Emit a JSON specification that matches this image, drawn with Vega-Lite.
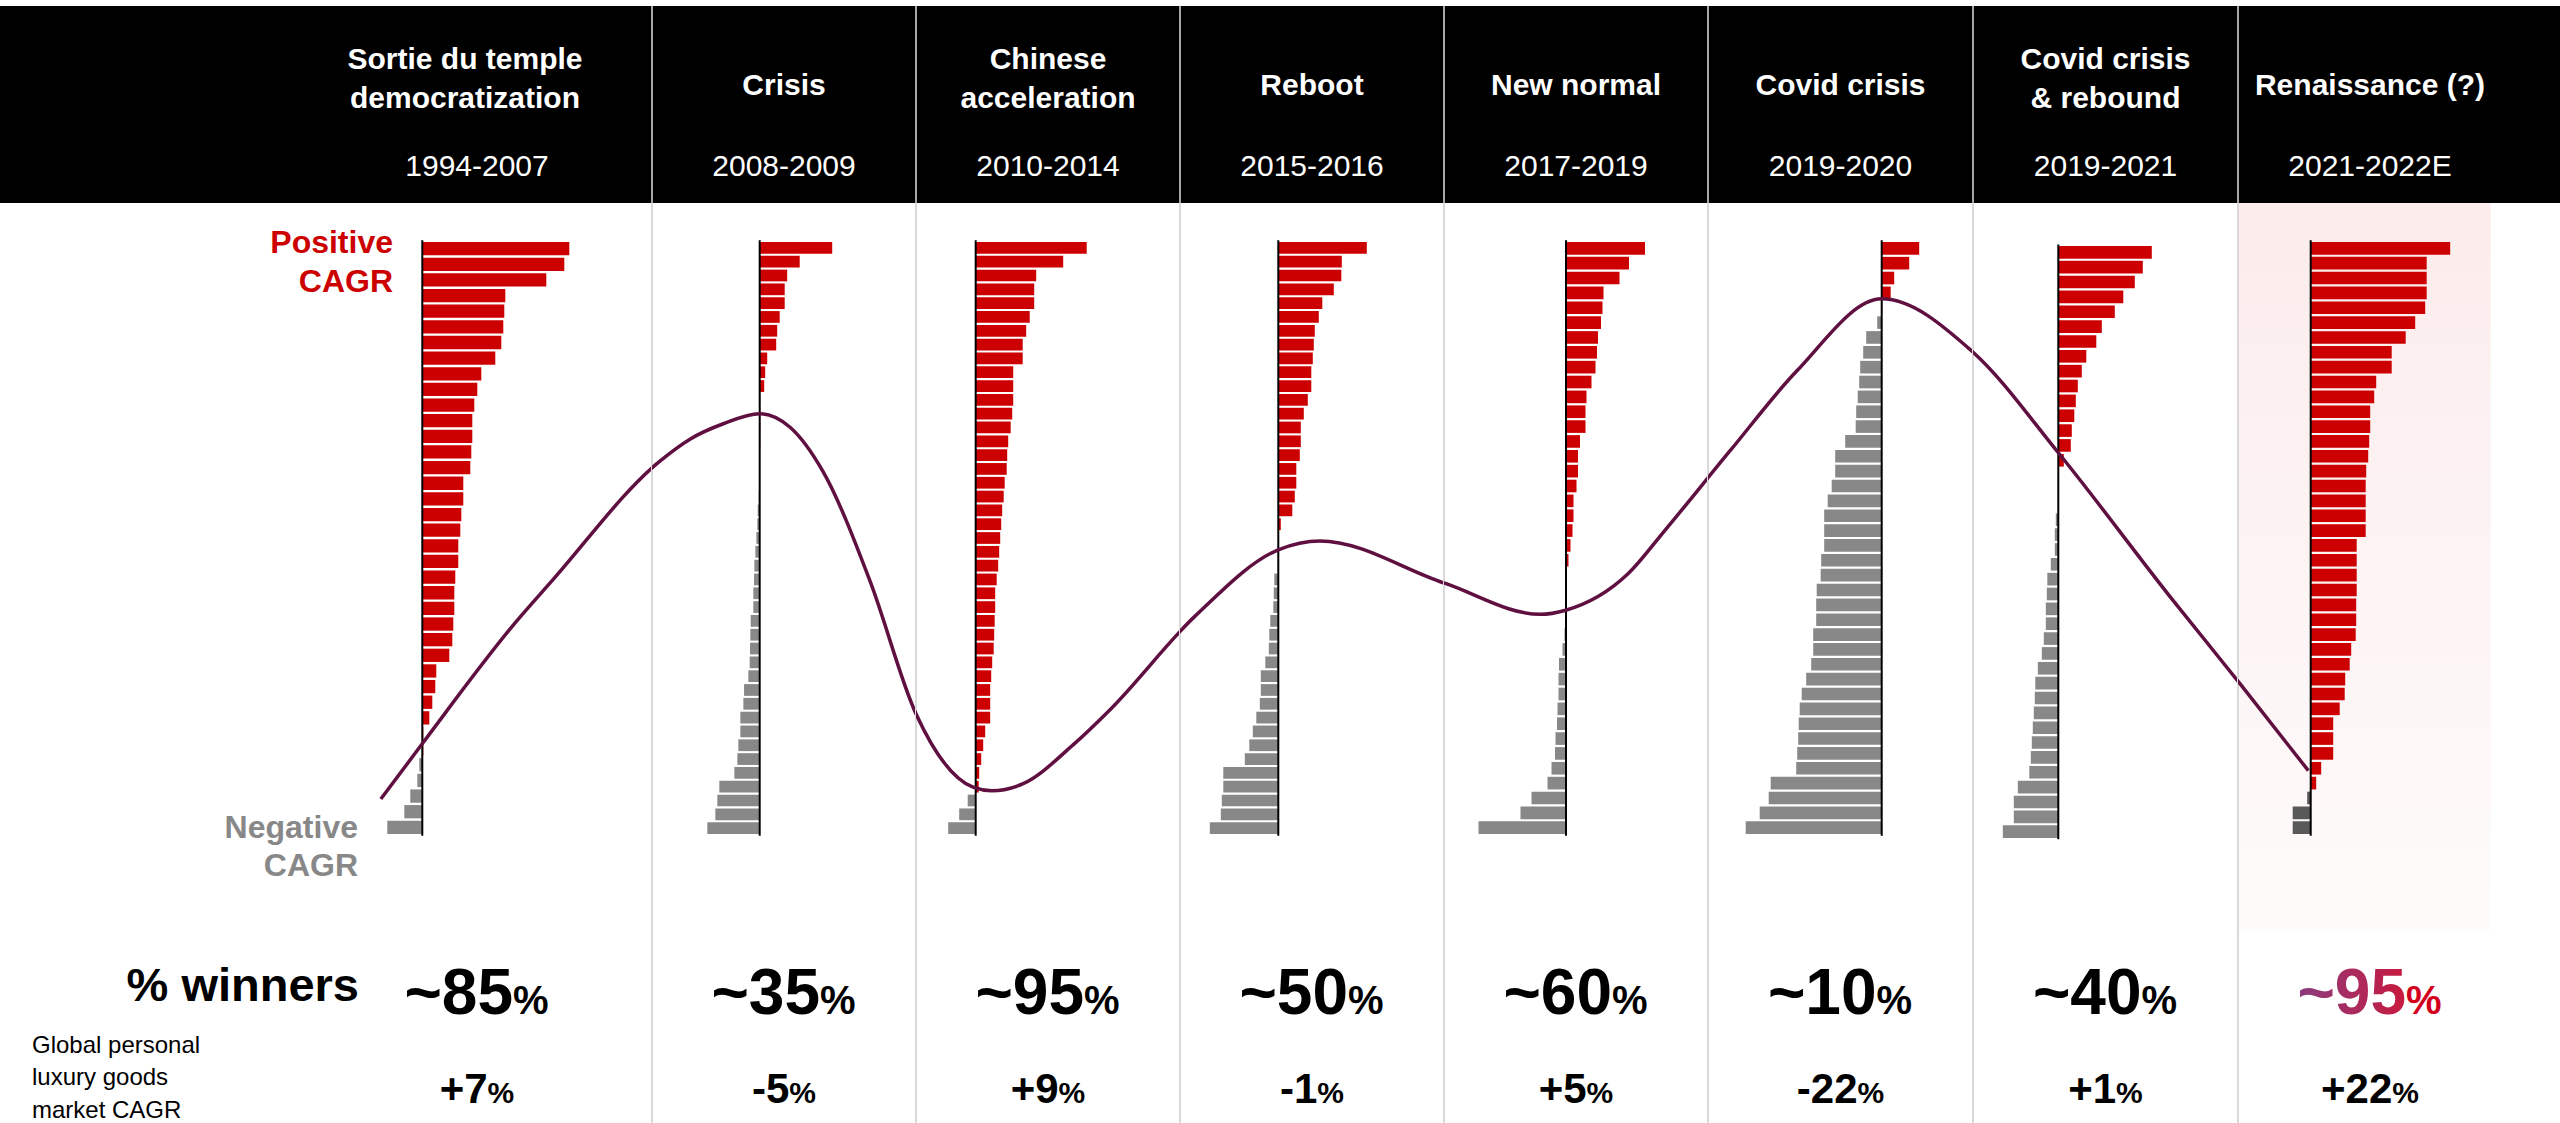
{
"$schema":"https://vega.github.io/schema/vega-lite/v6.json",
"padding":{"left":0,"top":5,"right":0,"bottom":0},
"background":"white",
"columns":9,
"spacing":0,
"bounds":"flush",
"config":{"view":{"stroke":null},"font":"Liberation Sans","concat":{"spacing":0}},
"datasets":{
"periods":[
{"panel":1,"title":"Sortie du temple\ndemocratization","years":"1994-2007","winners":"~85","market":"+7"},
{"panel":2,"title":"Crisis","years":"2008-2009","winners":"~35","market":"-5"},
{"panel":3,"title":"Chinese\nacceleration","years":"2010-2014","winners":"~95","market":"+9"},
{"panel":4,"title":"Reboot","years":"2015-2016","winners":"~50","market":"-1"},
{"panel":5,"title":"New normal","years":"2017-2019","winners":"~60","market":"+5"},
{"panel":6,"title":"Covid crisis","years":"2019-2020","winners":"~10","market":"-22"},
{"panel":7,"title":"Covid crisis\n& rebound","years":"2019-2021","winners":"~40","market":"+1"},
{"panel":8,"title":"Renaissance (?)","years":"2021-2022E","winners":"~95","market":"+22"}
],
"curve":[{"u":-0.027,"level":5.9},{"u":0.129,"level":15.2},{"u":0.488,"level":36.0},{"u":0.62,"level":42.7},{"u":1.03,"level":63.0},{"u":1.144,"level":66.7},{"u":1.27,"level":69.3},{"u":1.408,"level":71.0},{"u":1.523,"level":68.7},{"u":1.648,"level":61.2},{"u":1.826,"level":42.7},{"u":1.999,"level":20.4},{"u":2.216,"level":7.9},{"u":2.287,"level":7.3},{"u":2.406,"level":8.5},{"u":2.596,"level":15.1},{"u":2.735,"level":21.0},{"u":3.057,"level":36.8},{"u":3.372,"level":48.0},{"u":3.53,"level":49.5},{"u":4.0,"level":42.4},{"u":4.364,"level":37.1},{"u":4.461,"level":37.8},{"u":4.698,"level":44.0},{"u":4.837,"level":51.3},{"u":5.083,"level":64.7},{"u":5.336,"level":78.2},{"u":5.658,"level":90.4},{"u":6.001,"level":81.5},{"u":6.327,"level":64.4},{"u":6.75,"level":40.1},{"u":7.015,"level":25.4},{"u":7.274,"level":10.7}],
"bars":[
{"panel":1,"rank":1,"cagr":29.4},{"panel":1,"rank":2,"cagr":28.4},{"panel":1,"rank":3,"cagr":24.8},{"panel":1,"rank":4,"cagr":16.6},{"panel":1,"rank":5,"cagr":16.4},{"panel":1,"rank":6,"cagr":16.2},{"panel":1,"rank":7,"cagr":15.8},{"panel":1,"rank":8,"cagr":14.6},{"panel":1,"rank":9,"cagr":11.8},{"panel":1,"rank":10,"cagr":11},{"panel":1,"rank":11,"cagr":10.4},{"panel":1,"rank":12,"cagr":10},{"panel":1,"rank":13,"cagr":10},{"panel":1,"rank":14,"cagr":9.8},{"panel":1,"rank":15,"cagr":9.6},{"panel":1,"rank":16,"cagr":8.2},{"panel":1,"rank":17,"cagr":8.2},{"panel":1,"rank":18,"cagr":7.8},{"panel":1,"rank":19,"cagr":7.6},{"panel":1,"rank":20,"cagr":7.2},{"panel":1,"rank":21,"cagr":7.2},{"panel":1,"rank":22,"cagr":6.6},{"panel":1,"rank":23,"cagr":6.4},{"panel":1,"rank":24,"cagr":6.4},{"panel":1,"rank":25,"cagr":6.2},{"panel":1,"rank":26,"cagr":6},{"panel":1,"rank":27,"cagr":5.4},{"panel":1,"rank":28,"cagr":2.8},{"panel":1,"rank":29,"cagr":2.6},{"panel":1,"rank":30,"cagr":2},{"panel":1,"rank":31,"cagr":1.4},{"panel":1,"rank":32,"cagr":0.2},{"panel":1,"rank":33,"cagr":0.2},{"panel":1,"rank":34,"cagr":-0.6},{"panel":1,"rank":35,"cagr":-1},{"panel":1,"rank":36,"cagr":-2.4},{"panel":1,"rank":37,"cagr":-3.6},{"panel":1,"rank":38,"cagr":-7},
{"panel":2,"rank":1,"cagr":14.5},{"panel":2,"rank":2,"cagr":8},{"panel":2,"rank":3,"cagr":5.5},{"panel":2,"rank":4,"cagr":5},{"panel":2,"rank":5,"cagr":5},{"panel":2,"rank":6,"cagr":4},{"panel":2,"rank":7,"cagr":3.5},{"panel":2,"rank":8,"cagr":3.3},{"panel":2,"rank":9,"cagr":1.5},{"panel":2,"rank":10,"cagr":1.1},{"panel":2,"rank":11,"cagr":0.9},{"panel":2,"rank":12,"cagr":0.1},{"panel":2,"rank":13,"cagr":0.1},{"panel":2,"rank":14,"cagr":0.1},{"panel":2,"rank":15,"cagr":0.1},{"panel":2,"rank":16,"cagr":-0.1},{"panel":2,"rank":17,"cagr":-0.1},{"panel":2,"rank":18,"cagr":-0.1},{"panel":2,"rank":19,"cagr":-0.2},{"panel":2,"rank":20,"cagr":-0.4},{"panel":2,"rank":21,"cagr":-0.47},{"panel":2,"rank":22,"cagr":-0.67},{"panel":2,"rank":23,"cagr":-0.87},{"panel":2,"rank":24,"cagr":-1.07},{"panel":2,"rank":25,"cagr":-1.13},{"panel":2,"rank":26,"cagr":-1.27},{"panel":2,"rank":27,"cagr":-1.27},{"panel":2,"rank":28,"cagr":-1.8},{"panel":2,"rank":29,"cagr":-1.87},{"panel":2,"rank":30,"cagr":-1.93},{"panel":2,"rank":31,"cagr":-2},{"panel":2,"rank":32,"cagr":-2.27},{"panel":2,"rank":33,"cagr":-3.13},{"panel":2,"rank":34,"cagr":-3.27},{"panel":2,"rank":35,"cagr":-3.87},{"panel":2,"rank":36,"cagr":-3.87},{"panel":2,"rank":37,"cagr":-4.27},{"panel":2,"rank":38,"cagr":-4.47},{"panel":2,"rank":39,"cagr":-5.07},{"panel":2,"rank":40,"cagr":-8.07},{"panel":2,"rank":41,"cagr":-8.47},{"panel":2,"rank":42,"cagr":-8.87},{"panel":2,"rank":43,"cagr":-10.47},
{"panel":3,"rank":1,"cagr":22.2},{"panel":3,"rank":2,"cagr":17.5},{"panel":3,"rank":3,"cagr":12.1},{"panel":3,"rank":4,"cagr":11.7},{"panel":3,"rank":5,"cagr":11.7},{"panel":3,"rank":6,"cagr":10.8},{"panel":3,"rank":7,"cagr":10.1},{"panel":3,"rank":8,"cagr":9.4},{"panel":3,"rank":9,"cagr":9.4},{"panel":3,"rank":10,"cagr":7.5},{"panel":3,"rank":11,"cagr":7.5},{"panel":3,"rank":12,"cagr":7.5},{"panel":3,"rank":13,"cagr":7.3},{"panel":3,"rank":14,"cagr":7},{"panel":3,"rank":15,"cagr":6.5},{"panel":3,"rank":16,"cagr":6.3},{"panel":3,"rank":17,"cagr":6.2},{"panel":3,"rank":18,"cagr":5.8},{"panel":3,"rank":19,"cagr":5.6},{"panel":3,"rank":20,"cagr":5.3},{"panel":3,"rank":21,"cagr":5.1},{"panel":3,"rank":22,"cagr":4.9},{"panel":3,"rank":23,"cagr":4.7},{"panel":3,"rank":24,"cagr":4.5},{"panel":3,"rank":25,"cagr":4.2},{"panel":3,"rank":26,"cagr":3.9},{"panel":3,"rank":27,"cagr":3.9},{"panel":3,"rank":28,"cagr":3.8},{"panel":3,"rank":29,"cagr":3.7},{"panel":3,"rank":30,"cagr":3.6},{"panel":3,"rank":31,"cagr":3.3},{"panel":3,"rank":32,"cagr":3.1},{"panel":3,"rank":33,"cagr":2.9},{"panel":3,"rank":34,"cagr":2.9},{"panel":3,"rank":35,"cagr":2.9},{"panel":3,"rank":36,"cagr":1.9},{"panel":3,"rank":37,"cagr":1.5},{"panel":3,"rank":38,"cagr":1.1},{"panel":3,"rank":39,"cagr":0.7},{"panel":3,"rank":40,"cagr":0.6},{"panel":3,"rank":41,"cagr":-1.6},{"panel":3,"rank":42,"cagr":-3.3},{"panel":3,"rank":43,"cagr":-5.5},
{"panel":4,"rank":1,"cagr":17.7},{"panel":4,"rank":2,"cagr":12.7},{"panel":4,"rank":3,"cagr":12.6},{"panel":4,"rank":4,"cagr":11.1},{"panel":4,"rank":5,"cagr":8.8},{"panel":4,"rank":6,"cagr":8.1},{"panel":4,"rank":7,"cagr":7.3},{"panel":4,"rank":8,"cagr":7.1},{"panel":4,"rank":9,"cagr":6.9},{"panel":4,"rank":10,"cagr":6.6},{"panel":4,"rank":11,"cagr":6.6},{"panel":4,"rank":12,"cagr":5.9},{"panel":4,"rank":13,"cagr":5.1},{"panel":4,"rank":14,"cagr":4.5},{"panel":4,"rank":15,"cagr":4.5},{"panel":4,"rank":16,"cagr":4.3},{"panel":4,"rank":17,"cagr":3.6},{"panel":4,"rank":18,"cagr":3.6},{"panel":4,"rank":19,"cagr":3.3},{"panel":4,"rank":20,"cagr":2.8},{"panel":4,"rank":21,"cagr":0.5},{"panel":4,"rank":22,"cagr":0.1},{"panel":4,"rank":23,"cagr":-0.1},{"panel":4,"rank":24,"cagr":-0.1},{"panel":4,"rank":25,"cagr":-0.8},{"panel":4,"rank":26,"cagr":-0.9},{"panel":4,"rank":27,"cagr":-1},{"panel":4,"rank":28,"cagr":-1.6},{"panel":4,"rank":29,"cagr":-1.8},{"panel":4,"rank":30,"cagr":-1.9},{"panel":4,"rank":31,"cagr":-2.6},{"panel":4,"rank":32,"cagr":-3.5},{"panel":4,"rank":33,"cagr":-3.5},{"panel":4,"rank":34,"cagr":-3.7},{"panel":4,"rank":35,"cagr":-4.4},{"panel":4,"rank":36,"cagr":-5.1},{"panel":4,"rank":37,"cagr":-5.8},{"panel":4,"rank":38,"cagr":-6.7},{"panel":4,"rank":39,"cagr":-11},{"panel":4,"rank":40,"cagr":-11},{"panel":4,"rank":41,"cagr":-11.3},{"panel":4,"rank":42,"cagr":-11.5},{"panel":4,"rank":43,"cagr":-13.7},
{"panel":5,"rank":1,"cagr":15.8},{"panel":5,"rank":2,"cagr":12.6},{"panel":5,"rank":3,"cagr":10.7},{"panel":5,"rank":4,"cagr":7.5},{"panel":5,"rank":5,"cagr":7.3},{"panel":5,"rank":6,"cagr":7},{"panel":5,"rank":7,"cagr":6.4},{"panel":5,"rank":8,"cagr":6.2},{"panel":5,"rank":9,"cagr":5.9},{"panel":5,"rank":10,"cagr":5.1},{"panel":5,"rank":11,"cagr":4.1},{"panel":5,"rank":12,"cagr":3.9},{"panel":5,"rank":13,"cagr":3.9},{"panel":5,"rank":14,"cagr":2.8},{"panel":5,"rank":15,"cagr":2.4},{"panel":5,"rank":16,"cagr":2.4},{"panel":5,"rank":17,"cagr":2.1},{"panel":5,"rank":18,"cagr":1.5},{"panel":5,"rank":19,"cagr":1.5},{"panel":5,"rank":20,"cagr":1.3},{"panel":5,"rank":21,"cagr":0.9},{"panel":5,"rank":22,"cagr":0.5},{"panel":5,"rank":23,"cagr":0.1},{"panel":5,"rank":24,"cagr":0.1},{"panel":5,"rank":25,"cagr":-0.1},{"panel":5,"rank":26,"cagr":-0.1},{"panel":5,"rank":27,"cagr":-0.3},{"panel":5,"rank":28,"cagr":-0.7},{"panel":5,"rank":29,"cagr":-1.4},{"panel":5,"rank":30,"cagr":-1.5},{"panel":5,"rank":31,"cagr":-1.5},{"panel":5,"rank":32,"cagr":-1.7},{"panel":5,"rank":33,"cagr":-1.8},{"panel":5,"rank":34,"cagr":-2.1},{"panel":5,"rank":35,"cagr":-2.2},{"panel":5,"rank":36,"cagr":-2.9},{"panel":5,"rank":37,"cagr":-3.7},{"panel":5,"rank":38,"cagr":-6.9},{"panel":5,"rank":39,"cagr":-9.1},{"panel":5,"rank":40,"cagr":-17.5},
{"panel":6,"rank":1,"cagr":7.5},{"panel":6,"rank":2,"cagr":5.5},{"panel":6,"rank":3,"cagr":2.5},{"panel":6,"rank":4,"cagr":1.8},{"panel":6,"rank":5,"cagr":0.1},{"panel":6,"rank":6,"cagr":-0.9},{"panel":6,"rank":7,"cagr":-3.1},{"panel":6,"rank":8,"cagr":-3.7},{"panel":6,"rank":9,"cagr":-4.3},{"panel":6,"rank":10,"cagr":-4.5},{"panel":6,"rank":11,"cagr":-4.8},{"panel":6,"rank":12,"cagr":-5.1},{"panel":6,"rank":13,"cagr":-5.2},{"panel":6,"rank":14,"cagr":-7.3},{"panel":6,"rank":15,"cagr":-9.3},{"panel":6,"rank":16,"cagr":-9.3},{"panel":6,"rank":17,"cagr":-10},{"panel":6,"rank":18,"cagr":-10.8},{"panel":6,"rank":19,"cagr":-11.5},{"panel":6,"rank":20,"cagr":-11.5},{"panel":6,"rank":21,"cagr":-11.5},{"panel":6,"rank":22,"cagr":-12.1},{"panel":6,"rank":23,"cagr":-12.2},{"panel":6,"rank":24,"cagr":-13},{"panel":6,"rank":25,"cagr":-13.1},{"panel":6,"rank":26,"cagr":-13.1},{"panel":6,"rank":27,"cagr":-13.7},{"panel":6,"rank":28,"cagr":-13.7},{"panel":6,"rank":29,"cagr":-14.1},{"panel":6,"rank":30,"cagr":-15.1},{"panel":6,"rank":31,"cagr":-16},{"panel":6,"rank":32,"cagr":-16.4},{"panel":6,"rank":33,"cagr":-16.6},{"panel":6,"rank":34,"cagr":-16.7},{"panel":6,"rank":35,"cagr":-16.9},{"panel":6,"rank":36,"cagr":-17.1},{"panel":6,"rank":37,"cagr":-22.2},{"panel":6,"rank":38,"cagr":-22.6},{"panel":6,"rank":39,"cagr":-24.4},{"panel":6,"rank":40,"cagr":-27.2},
{"panel":7,"rank":1,"cagr":18.7},{"panel":7,"rank":2,"cagr":16.9},{"panel":7,"rank":3,"cagr":15.3},{"panel":7,"rank":4,"cagr":13},{"panel":7,"rank":5,"cagr":11.3},{"panel":7,"rank":6,"cagr":8.7},{"panel":7,"rank":7,"cagr":7.6},{"panel":7,"rank":8,"cagr":5.6},{"panel":7,"rank":9,"cagr":4.7},{"panel":7,"rank":10,"cagr":3.9},{"panel":7,"rank":11,"cagr":3.5},{"panel":7,"rank":12,"cagr":3.2},{"panel":7,"rank":13,"cagr":2.7},{"panel":7,"rank":14,"cagr":2.5},{"panel":7,"rank":15,"cagr":1.1},{"panel":7,"rank":16,"cagr":0.15},{"panel":7,"rank":17,"cagr":-0.1},{"panel":7,"rank":18,"cagr":-0.1},{"panel":7,"rank":19,"cagr":-0.5},{"panel":7,"rank":20,"cagr":-0.7},{"panel":7,"rank":21,"cagr":-0.7},{"panel":7,"rank":22,"cagr":-1.5},{"panel":7,"rank":23,"cagr":-2.2},{"panel":7,"rank":24,"cagr":-2.3},{"panel":7,"rank":25,"cagr":-2.5},{"panel":7,"rank":26,"cagr":-2.5},{"panel":7,"rank":27,"cagr":-2.9},{"panel":7,"rank":28,"cagr":-3.3},{"panel":7,"rank":29,"cagr":-4.1},{"panel":7,"rank":30,"cagr":-4.6},{"panel":7,"rank":31,"cagr":-4.7},{"panel":7,"rank":32,"cagr":-4.9},{"panel":7,"rank":33,"cagr":-5.1},{"panel":7,"rank":34,"cagr":-5.3},{"panel":7,"rank":35,"cagr":-5.5},{"panel":7,"rank":36,"cagr":-5.8},{"panel":7,"rank":37,"cagr":-8.1},{"panel":7,"rank":38,"cagr":-8.9},{"panel":7,"rank":39,"cagr":-8.9},{"panel":7,"rank":40,"cagr":-11.1},
{"panel":8,"rank":1,"cagr":27.9},{"panel":8,"rank":2,"cagr":23.2},{"panel":8,"rank":3,"cagr":23.2},{"panel":8,"rank":4,"cagr":23.2},{"panel":8,"rank":5,"cagr":22.9},{"panel":8,"rank":6,"cagr":20.9},{"panel":8,"rank":7,"cagr":19},{"panel":8,"rank":8,"cagr":16.2},{"panel":8,"rank":9,"cagr":16.2},{"panel":8,"rank":10,"cagr":13.1},{"panel":8,"rank":11,"cagr":12.7},{"panel":8,"rank":12,"cagr":11.9},{"panel":8,"rank":13,"cagr":11.9},{"panel":8,"rank":14,"cagr":11.7},{"panel":8,"rank":15,"cagr":11.5},{"panel":8,"rank":16,"cagr":11.1},{"panel":8,"rank":17,"cagr":11},{"panel":8,"rank":18,"cagr":11},{"panel":8,"rank":19,"cagr":11},{"panel":8,"rank":20,"cagr":11},{"panel":8,"rank":21,"cagr":9.2},{"panel":8,"rank":22,"cagr":9.2},{"panel":8,"rank":23,"cagr":9.2},{"panel":8,"rank":24,"cagr":9.2},{"panel":8,"rank":25,"cagr":9.1},{"panel":8,"rank":26,"cagr":9.1},{"panel":8,"rank":27,"cagr":9},{"panel":8,"rank":28,"cagr":8.1},{"panel":8,"rank":29,"cagr":7.8},{"panel":8,"rank":30,"cagr":6.9},{"panel":8,"rank":31,"cagr":6.8},{"panel":8,"rank":32,"cagr":5.8},{"panel":8,"rank":33,"cagr":4.5},{"panel":8,"rank":34,"cagr":4.5},{"panel":8,"rank":35,"cagr":4.5},{"panel":8,"rank":36,"cagr":2.1},{"panel":8,"rank":37,"cagr":1.1},{"panel":8,"rank":38,"cagr":-0.7},{"panel":8,"rank":39,"cagr":-3.6},{"panel":8,"rank":40,"cagr":-3.6}
]
},
"concat":[
{"width":652,"height":197,"view":{"fill":"#000000","stroke":null},"data":{"name":"periods"},"transform":[{"filter":"datum.panel == 1"}],"layer":[
{"mark":{"type":"text","color":"#ffffff","fontSize":30,"fontWeight":"bold","lineBreak":"\n","lineHeight":39,"baseline":"middle"},"encoding":{"text":{"field":"title"},"x":{"datum":8.54,"type":"quantitative","scale":{"domain":[-84.46,45.94],"nice":false,"zero":false},"axis":null},"y":{"datum":0.274,"type":"quantitative","scale":{"domain":[0,1],"reverse":true,"nice":false,"zero":false},"axis":null}}},
{"mark":{"type":"text","color":"#ffffff","fontSize":30,"baseline":"middle"},"encoding":{"text":{"field":"years"},"x":{"datum":10.94,"type":"quantitative","scale":{"domain":[-84.46,45.94],"nice":false,"zero":false},"axis":null},"y":{"datum":0.817,"type":"quantitative","scale":{"domain":[0,1],"reverse":true,"nice":false,"zero":false},"axis":null}}}]},
{"width":264,"height":197,"view":{"fill":"#000000","stroke":null},"data":{"name":"periods"},"transform":[{"filter":"datum.panel == 2"}],"layer":[
{"mark":{"type":"rule","color":"#a6a6a6","strokeWidth":2},"encoding":{"x":{"datum":-21.54,"type":"quantitative","scale":{"domain":[-21.54,31.26],"nice":false,"zero":false},"axis":null}}},
{"mark":{"type":"text","color":"#ffffff","fontSize":30,"fontWeight":"bold","lineBreak":"\n","lineHeight":39,"baseline":"middle"},"encoding":{"text":{"field":"title"},"y":{"datum":0.406,"type":"quantitative","scale":{"domain":[0,1],"reverse":true,"nice":false,"zero":false},"axis":null}}},
{"mark":{"type":"text","color":"#ffffff","fontSize":30,"baseline":"middle"},"encoding":{"text":{"field":"years"},"y":{"datum":0.817,"type":"quantitative","scale":{"domain":[0,1],"reverse":true,"nice":false,"zero":false},"axis":null}}}]},
{"width":264,"height":197,"view":{"fill":"#000000","stroke":null},"data":{"name":"periods"},"transform":[{"filter":"datum.panel == 3"}],"layer":[
{"mark":{"type":"rule","color":"#a6a6a6","strokeWidth":2},"encoding":{"x":{"datum":-11.94,"type":"quantitative","scale":{"domain":[-11.94,40.86],"nice":false,"zero":false},"axis":null}}},
{"mark":{"type":"text","color":"#ffffff","fontSize":30,"fontWeight":"bold","lineBreak":"\n","lineHeight":39,"baseline":"middle"},"encoding":{"text":{"field":"title"},"y":{"datum":0.274,"type":"quantitative","scale":{"domain":[0,1],"reverse":true,"nice":false,"zero":false},"axis":null}}},
{"mark":{"type":"text","color":"#ffffff","fontSize":30,"baseline":"middle"},"encoding":{"text":{"field":"years"},"y":{"datum":0.817,"type":"quantitative","scale":{"domain":[0,1],"reverse":true,"nice":false,"zero":false},"axis":null}}}]},
{"width":264,"height":197,"view":{"fill":"#000000","stroke":null},"data":{"name":"periods"},"transform":[{"filter":"datum.panel == 4"}],"layer":[
{"mark":{"type":"rule","color":"#a6a6a6","strokeWidth":2},"encoding":{"x":{"datum":-19.66,"type":"quantitative","scale":{"domain":[-19.66,33.14],"nice":false,"zero":false},"axis":null}}},
{"mark":{"type":"text","color":"#ffffff","fontSize":30,"fontWeight":"bold","lineBreak":"\n","lineHeight":39,"baseline":"middle"},"encoding":{"text":{"field":"title"},"y":{"datum":0.406,"type":"quantitative","scale":{"domain":[0,1],"reverse":true,"nice":false,"zero":false},"axis":null}}},
{"mark":{"type":"text","color":"#ffffff","fontSize":30,"baseline":"middle"},"encoding":{"text":{"field":"years"},"y":{"datum":0.817,"type":"quantitative","scale":{"domain":[0,1],"reverse":true,"nice":false,"zero":false},"axis":null}}}]},
{"width":264,"height":197,"view":{"fill":"#000000","stroke":null},"data":{"name":"periods"},"transform":[{"filter":"datum.panel == 5"}],"layer":[
{"mark":{"type":"rule","color":"#a6a6a6","strokeWidth":2},"encoding":{"x":{"datum":-24.4,"type":"quantitative","scale":{"domain":[-24.4,28.4],"nice":false,"zero":false},"axis":null}}},
{"mark":{"type":"text","color":"#ffffff","fontSize":30,"fontWeight":"bold","lineBreak":"\n","lineHeight":39,"baseline":"middle"},"encoding":{"text":{"field":"title"},"y":{"datum":0.406,"type":"quantitative","scale":{"domain":[0,1],"reverse":true,"nice":false,"zero":false},"axis":null}}},
{"mark":{"type":"text","color":"#ffffff","fontSize":30,"baseline":"middle"},"encoding":{"text":{"field":"years"},"y":{"datum":0.817,"type":"quantitative","scale":{"domain":[0,1],"reverse":true,"nice":false,"zero":false},"axis":null}}}]},
{"width":265,"height":197,"view":{"fill":"#000000","stroke":null},"data":{"name":"periods"},"transform":[{"filter":"datum.panel == 6"}],"layer":[
{"mark":{"type":"rule","color":"#a6a6a6","strokeWidth":2},"encoding":{"x":{"datum":-34.74,"type":"quantitative","scale":{"domain":[-34.74,18.26],"nice":false,"zero":false},"axis":null}}},
{"mark":{"type":"text","color":"#ffffff","fontSize":30,"fontWeight":"bold","lineBreak":"\n","lineHeight":39,"baseline":"middle"},"encoding":{"text":{"field":"title"},"y":{"datum":0.406,"type":"quantitative","scale":{"domain":[0,1],"reverse":true,"nice":false,"zero":false},"axis":null}}},
{"mark":{"type":"text","color":"#ffffff","fontSize":30,"baseline":"middle"},"encoding":{"text":{"field":"years"},"y":{"datum":0.817,"type":"quantitative","scale":{"domain":[0,1],"reverse":true,"nice":false,"zero":false},"axis":null}}}]},
{"width":265,"height":197,"view":{"fill":"#000000","stroke":null},"data":{"name":"periods"},"transform":[{"filter":"datum.panel == 7"}],"layer":[
{"mark":{"type":"rule","color":"#a6a6a6","strokeWidth":2},"encoding":{"x":{"datum":-17.06,"type":"quantitative","scale":{"domain":[-17.06,35.94],"nice":false,"zero":false},"axis":null}}},
{"mark":{"type":"text","color":"#ffffff","fontSize":30,"fontWeight":"bold","lineBreak":"\n","lineHeight":39,"baseline":"middle"},"encoding":{"text":{"field":"title"},"y":{"datum":0.274,"type":"quantitative","scale":{"domain":[0,1],"reverse":true,"nice":false,"zero":false},"axis":null}}},
{"mark":{"type":"text","color":"#ffffff","fontSize":30,"baseline":"middle"},"encoding":{"text":{"field":"years"},"y":{"datum":0.817,"type":"quantitative","scale":{"domain":[0,1],"reverse":true,"nice":false,"zero":false},"axis":null}}}]},
{"width":264,"height":197,"view":{"fill":"#000000","stroke":null},"data":{"name":"periods"},"transform":[{"filter":"datum.panel == 8"}],"layer":[
{"mark":{"type":"rule","color":"#a6a6a6","strokeWidth":2},"encoding":{"x":{"datum":-14.54,"type":"quantitative","scale":{"domain":[-14.54,38.26],"nice":false,"zero":false},"axis":null}}},
{"mark":{"type":"text","color":"#ffffff","fontSize":30,"fontWeight":"bold","lineBreak":"\n","lineHeight":39,"baseline":"middle"},"encoding":{"text":{"field":"title"},"y":{"datum":0.406,"type":"quantitative","scale":{"domain":[0,1],"reverse":true,"nice":false,"zero":false},"axis":null}}},
{"mark":{"type":"text","color":"#ffffff","fontSize":30,"baseline":"middle"},"encoding":{"text":{"field":"years"},"y":{"datum":0.817,"type":"quantitative","scale":{"domain":[0,1],"reverse":true,"nice":false,"zero":false},"axis":null}}}]},
{"width":58,"height":197,"view":{"fill":"#000000","stroke":null},"data":{"values":[{}]},"mark":{"type":"text","text":""},"encoding":{}},

{"width":652,"height":728,"resolve":{"scale":{"x":"independent","y":"independent"}},"layer":[
{"data":{"name":"bars"},"transform":[{"filter":"datum.panel == 1"}],"mark":{"type":"bar"},"encoding":{"y":{"field":"rank","type":"ordinal","scale":{"range":[39,631],"paddingInner":0.15,"paddingOuter":0},"axis":null},"x":{"field":"cagr","type":"quantitative","scale":{"domain":[-84.46,45.94],"nice":false,"zero":false},"axis":null},"color":{"condition":{"test":"datum.cagr > 0","value":"#cc0000"},"value":"#888888"}}},
{"data":{"values":[{}]},"mark":{"type":"rule","color":"#000000","strokeWidth":2},"encoding":{"x":{"datum":0,"type":"quantitative","scale":{"domain":[-84.46,45.94],"nice":false,"zero":false},"axis":null},"y":{"datum":100.3,"type":"quantitative","scale":{"domain":[-16.39,106.59],"nice":false,"zero":false},"axis":null},"y2":{"datum":-0.3}}},
{"data":{"name":"curve"},"mark":{"type":"line","interpolate":"monotone","clip":true,"color":"#5f0f40","strokeWidth":3.5},"encoding":{"x":{"field":"u","type":"quantitative","scale":{"domain":[-1.4697,1],"nice":false,"zero":false},"axis":null},"y":{"field":"level","type":"quantitative","scale":{"domain":[-16.39,106.59],"nice":false,"zero":false},"axis":null}}},
{"data":{"values":[{}]},"mark":{"type":"text","text":["Positive","CAGR"],"color":"#cc0000","fontSize":32,"fontWeight":"bold","align":"right","baseline":"alphabetic","lineHeight":38.7},"encoding":{"x":{"datum":-5.86,"type":"quantitative","scale":{"domain":[-84.46,45.94],"nice":false,"zero":false},"axis":null},"y":{"datum":98.14,"type":"quantitative","scale":{"domain":[-16.39,106.59],"nice":false,"zero":false},"axis":null}}},
{"data":{"values":[{}]},"mark":{"type":"text","text":["Negative","CAGR"],"color":"#888888","fontSize":32,"fontWeight":"bold","align":"right","baseline":"alphabetic","lineHeight":38.3},"encoding":{"x":{"datum":-12.86,"type":"quantitative","scale":{"domain":[-84.46,45.94],"nice":false,"zero":false},"axis":null},"y":{"datum":-0.63,"type":"quantitative","scale":{"domain":[-16.39,106.59],"nice":false,"zero":false},"axis":null}}}
]},
{"width":264,"height":728,"resolve":{"scale":{"x":"independent","y":"independent"}},"layer":[
{"data":{"values":[{}]},"mark":{"type":"rule","color":"#d9d9d9","strokeWidth":2},"encoding":{"x":{"datum":-21.54,"type":"quantitative","scale":{"domain":[-21.54,31.26],"nice":false,"zero":false},"axis":null}}},
{"data":{"name":"bars"},"transform":[{"filter":"datum.panel == 2"}],"mark":{"type":"bar"},"encoding":{"y":{"field":"rank","type":"ordinal","scale":{"range":[39,631],"paddingInner":0.15,"paddingOuter":0},"axis":null},"x":{"field":"cagr","type":"quantitative","scale":{"domain":[-21.54,31.26],"nice":false,"zero":false},"axis":null},"color":{"condition":{"test":"datum.cagr > 0","value":"#cc0000"},"value":"#888888"}}},
{"data":{"values":[{}]},"mark":{"type":"rule","color":"#000000","strokeWidth":2},"encoding":{"x":{"datum":0,"type":"quantitative","scale":{"domain":[-21.54,31.26],"nice":false,"zero":false},"axis":null},"y":{"datum":100.3,"type":"quantitative","scale":{"domain":[-16.39,106.59],"nice":false,"zero":false},"axis":null},"y2":{"datum":-0.3}}},
{"data":{"name":"curve"},"mark":{"type":"line","interpolate":"monotone","clip":true,"color":"#5f0f40","strokeWidth":3.5},"encoding":{"x":{"field":"u","type":"quantitative","scale":{"domain":[1,2],"nice":false,"zero":false},"axis":null},"y":{"field":"level","type":"quantitative","scale":{"domain":[-16.39,106.59],"nice":false,"zero":false},"axis":null}}}
]},
{"width":264,"height":728,"resolve":{"scale":{"x":"independent","y":"independent"}},"layer":[
{"data":{"values":[{}]},"mark":{"type":"rule","color":"#d9d9d9","strokeWidth":2},"encoding":{"x":{"datum":-11.94,"type":"quantitative","scale":{"domain":[-11.94,40.86],"nice":false,"zero":false},"axis":null}}},
{"data":{"name":"bars"},"transform":[{"filter":"datum.panel == 3"}],"mark":{"type":"bar"},"encoding":{"y":{"field":"rank","type":"ordinal","scale":{"range":[39,631],"paddingInner":0.15,"paddingOuter":0},"axis":null},"x":{"field":"cagr","type":"quantitative","scale":{"domain":[-11.94,40.86],"nice":false,"zero":false},"axis":null},"color":{"condition":{"test":"datum.cagr > 0","value":"#cc0000"},"value":"#888888"}}},
{"data":{"values":[{}]},"mark":{"type":"rule","color":"#000000","strokeWidth":2},"encoding":{"x":{"datum":0,"type":"quantitative","scale":{"domain":[-11.94,40.86],"nice":false,"zero":false},"axis":null},"y":{"datum":100.3,"type":"quantitative","scale":{"domain":[-16.39,106.59],"nice":false,"zero":false},"axis":null},"y2":{"datum":-0.3}}},
{"data":{"name":"curve"},"mark":{"type":"line","interpolate":"monotone","clip":true,"color":"#5f0f40","strokeWidth":3.5},"encoding":{"x":{"field":"u","type":"quantitative","scale":{"domain":[2,3],"nice":false,"zero":false},"axis":null},"y":{"field":"level","type":"quantitative","scale":{"domain":[-16.39,106.59],"nice":false,"zero":false},"axis":null}}}
]},
{"width":264,"height":728,"resolve":{"scale":{"x":"independent","y":"independent"}},"layer":[
{"data":{"values":[{}]},"mark":{"type":"rule","color":"#d9d9d9","strokeWidth":2},"encoding":{"x":{"datum":-19.66,"type":"quantitative","scale":{"domain":[-19.66,33.14],"nice":false,"zero":false},"axis":null}}},
{"data":{"name":"bars"},"transform":[{"filter":"datum.panel == 4"}],"mark":{"type":"bar"},"encoding":{"y":{"field":"rank","type":"ordinal","scale":{"range":[39,631],"paddingInner":0.15,"paddingOuter":0},"axis":null},"x":{"field":"cagr","type":"quantitative","scale":{"domain":[-19.66,33.14],"nice":false,"zero":false},"axis":null},"color":{"condition":{"test":"datum.cagr > 0","value":"#cc0000"},"value":"#888888"}}},
{"data":{"values":[{}]},"mark":{"type":"rule","color":"#000000","strokeWidth":2},"encoding":{"x":{"datum":0,"type":"quantitative","scale":{"domain":[-19.66,33.14],"nice":false,"zero":false},"axis":null},"y":{"datum":100.3,"type":"quantitative","scale":{"domain":[-16.39,106.59],"nice":false,"zero":false},"axis":null},"y2":{"datum":-0.3}}},
{"data":{"name":"curve"},"mark":{"type":"line","interpolate":"monotone","clip":true,"color":"#5f0f40","strokeWidth":3.5},"encoding":{"x":{"field":"u","type":"quantitative","scale":{"domain":[3,4],"nice":false,"zero":false},"axis":null},"y":{"field":"level","type":"quantitative","scale":{"domain":[-16.39,106.59],"nice":false,"zero":false},"axis":null}}}
]},
{"width":264,"height":728,"resolve":{"scale":{"x":"independent","y":"independent"}},"layer":[
{"data":{"values":[{}]},"mark":{"type":"rule","color":"#d9d9d9","strokeWidth":2},"encoding":{"x":{"datum":-24.4,"type":"quantitative","scale":{"domain":[-24.4,28.4],"nice":false,"zero":false},"axis":null}}},
{"data":{"name":"bars"},"transform":[{"filter":"datum.panel == 5"}],"mark":{"type":"bar"},"encoding":{"y":{"field":"rank","type":"ordinal","scale":{"range":[39,631],"paddingInner":0.15,"paddingOuter":0},"axis":null},"x":{"field":"cagr","type":"quantitative","scale":{"domain":[-24.4,28.4],"nice":false,"zero":false},"axis":null},"color":{"condition":{"test":"datum.cagr > 0","value":"#cc0000"},"value":"#888888"}}},
{"data":{"values":[{}]},"mark":{"type":"rule","color":"#000000","strokeWidth":2},"encoding":{"x":{"datum":0,"type":"quantitative","scale":{"domain":[-24.4,28.4],"nice":false,"zero":false},"axis":null},"y":{"datum":100.3,"type":"quantitative","scale":{"domain":[-16.39,106.59],"nice":false,"zero":false},"axis":null},"y2":{"datum":-0.3}}},
{"data":{"name":"curve"},"mark":{"type":"line","interpolate":"monotone","clip":true,"color":"#5f0f40","strokeWidth":3.5},"encoding":{"x":{"field":"u","type":"quantitative","scale":{"domain":[4,5],"nice":false,"zero":false},"axis":null},"y":{"field":"level","type":"quantitative","scale":{"domain":[-16.39,106.59],"nice":false,"zero":false},"axis":null}}}
]},
{"width":265,"height":728,"resolve":{"scale":{"x":"independent","y":"independent"}},"layer":[
{"data":{"values":[{}]},"mark":{"type":"rule","color":"#d9d9d9","strokeWidth":2},"encoding":{"x":{"datum":-34.74,"type":"quantitative","scale":{"domain":[-34.74,18.26],"nice":false,"zero":false},"axis":null}}},
{"data":{"name":"bars"},"transform":[{"filter":"datum.panel == 6"}],"mark":{"type":"bar"},"encoding":{"y":{"field":"rank","type":"ordinal","scale":{"range":[39,631],"paddingInner":0.15,"paddingOuter":0},"axis":null},"x":{"field":"cagr","type":"quantitative","scale":{"domain":[-34.74,18.26],"nice":false,"zero":false},"axis":null},"color":{"condition":{"test":"datum.cagr > 0","value":"#cc0000"},"value":"#888888"}}},
{"data":{"values":[{}]},"mark":{"type":"rule","color":"#000000","strokeWidth":2},"encoding":{"x":{"datum":0,"type":"quantitative","scale":{"domain":[-34.74,18.26],"nice":false,"zero":false},"axis":null},"y":{"datum":100.3,"type":"quantitative","scale":{"domain":[-16.39,106.59],"nice":false,"zero":false},"axis":null},"y2":{"datum":-0.3}}},
{"data":{"name":"curve"},"mark":{"type":"line","interpolate":"monotone","clip":true,"color":"#5f0f40","strokeWidth":3.5},"encoding":{"x":{"field":"u","type":"quantitative","scale":{"domain":[5,6.0038],"nice":false,"zero":false},"axis":null},"y":{"field":"level","type":"quantitative","scale":{"domain":[-16.39,106.59],"nice":false,"zero":false},"axis":null}}}
]},
{"width":265,"height":728,"resolve":{"scale":{"x":"independent","y":"independent"}},"layer":[
{"data":{"values":[{}]},"mark":{"type":"rule","color":"#d9d9d9","strokeWidth":2},"encoding":{"x":{"datum":-17.06,"type":"quantitative","scale":{"domain":[-17.06,35.94],"nice":false,"zero":false},"axis":null}}},
{"data":{"name":"bars"},"transform":[{"filter":"datum.panel == 7"}],"mark":{"type":"bar"},"encoding":{"y":{"field":"rank","type":"ordinal","scale":{"range":[43,635],"paddingInner":0.15,"paddingOuter":0},"axis":null},"x":{"field":"cagr","type":"quantitative","scale":{"domain":[-17.06,35.94],"nice":false,"zero":false},"axis":null},"color":{"condition":{"test":"datum.cagr > 0","value":"#cc0000"},"value":"#888888"}}},
{"data":{"values":[{}]},"mark":{"type":"rule","color":"#000000","strokeWidth":2},"encoding":{"x":{"datum":0,"type":"quantitative","scale":{"domain":[-17.06,35.94],"nice":false,"zero":false},"axis":null},"y":{"datum":99.6,"type":"quantitative","scale":{"domain":[-16.39,106.59],"nice":false,"zero":false},"axis":null},"y2":{"datum":-0.9}}},
{"data":{"name":"curve"},"mark":{"type":"line","interpolate":"monotone","clip":true,"color":"#5f0f40","strokeWidth":3.5},"encoding":{"x":{"field":"u","type":"quantitative","scale":{"domain":[6.0038,7.0076],"nice":false,"zero":false},"axis":null},"y":{"field":"level","type":"quantitative","scale":{"domain":[-16.39,106.59],"nice":false,"zero":false},"axis":null}}}
]},
{"width":264,"height":728,"resolve":{"scale":{"x":"independent","y":"independent"}},"layer":[
{"data":{"values":[{}]},"mark":{"type":"rect","fill":{"gradient":"linear","x1":0,"y1":0,"x2":0,"y2":1,"stops":[{"offset":0,"color":"#fcecec"},{"offset":1,"color":"#fefbfb"}]}},"encoding":{"x":{"datum":-14.54,"type":"quantitative","scale":{"domain":[-14.54,38.26],"nice":false,"zero":false},"axis":null},"x2":{"datum":36.0}}},
{"data":{"values":[{}]},"mark":{"type":"rule","color":"#d9d9d9","strokeWidth":2},"encoding":{"x":{"datum":-14.54,"type":"quantitative","scale":{"domain":[-14.54,38.26],"nice":false,"zero":false},"axis":null}}},
{"data":{"name":"bars"},"transform":[{"filter":"datum.panel == 8"}],"mark":{"type":"bar"},"encoding":{"y":{"field":"rank","type":"ordinal","scale":{"range":[39,631],"paddingInner":0.15,"paddingOuter":0},"axis":null},"x":{"field":"cagr","type":"quantitative","scale":{"domain":[-14.54,38.26],"nice":false,"zero":false},"axis":null},"color":{"condition":{"test":"datum.cagr > 0","value":"#cc0000"},"value":"#595959"}}},
{"data":{"values":[{}]},"mark":{"type":"rule","color":"#000000","strokeWidth":2},"encoding":{"x":{"datum":0,"type":"quantitative","scale":{"domain":[-14.54,38.26],"nice":false,"zero":false},"axis":null},"y":{"datum":100.3,"type":"quantitative","scale":{"domain":[-16.39,106.59],"nice":false,"zero":false},"axis":null},"y2":{"datum":-0.3}}},
{"data":{"name":"curve"},"mark":{"type":"line","interpolate":"monotone","clip":true,"color":"#5f0f40","strokeWidth":3.5},"encoding":{"x":{"field":"u","type":"quantitative","scale":{"domain":[7.0076,8.0076],"nice":false,"zero":false},"axis":null},"y":{"field":"level","type":"quantitative","scale":{"domain":[-16.39,106.59],"nice":false,"zero":false},"axis":null}}}
]},
{"width":58,"height":728,"data":{"values":[{}]},"mark":{"type":"text","text":""},"encoding":{}},

{"width":652,"height":193,"data":{"name":"periods"},"transform":[{"filter":"datum.panel == 1"}],"layer":[
{"mark":{"type":"text","fontSize":64,"fontWeight":"bold","align":"right","baseline":"alphabetic","dx":36,"color":"#000000"},"encoding":{"text":{"field":"winners"},"x":{"datum":10.94,"type":"quantitative","scale":{"domain":[-84.46,45.94],"nice":false,"zero":false},"axis":null},"y":{"datum":0.43,"type":"quantitative","scale":{"domain":[0,1],"reverse":true,"nice":false,"zero":false},"axis":null}}},
{"mark":{"type":"text","text":"%","fontSize":40,"fontWeight":"bold","align":"left","baseline":"alphabetic","dx":36,"color":"#000000"},"encoding":{"x":{"datum":10.94,"type":"quantitative","scale":{"domain":[-84.46,45.94],"nice":false,"zero":false},"axis":null},"y":{"datum":0.43,"type":"quantitative","scale":{"domain":[0,1],"reverse":true,"nice":false,"zero":false},"axis":null}}},
{"mark":{"type":"text","text":"% winners","fontSize":47,"fontWeight":"bold","align":"right","baseline":"alphabetic","color":"#000000"},"encoding":{"x":{"datum":-12.66,"type":"quantitative","scale":{"domain":[-84.46,45.94],"nice":false,"zero":false},"axis":null},"y":{"datum":0.363,"type":"quantitative","scale":{"domain":[0,1],"reverse":true,"nice":false,"zero":false},"axis":null}}},
{"mark":{"type":"text","fontSize":42,"fontWeight":"bold","align":"right","baseline":"alphabetic","dx":10.6,"color":"#000000"},"encoding":{"text":{"field":"market"},"x":{"datum":10.94,"type":"quantitative","scale":{"domain":[-84.46,45.94],"nice":false,"zero":false},"axis":null},"y":{"datum":0.891,"type":"quantitative","scale":{"domain":[0,1],"reverse":true,"nice":false,"zero":false},"axis":null}}},
{"mark":{"type":"text","text":"%","fontSize":30,"fontWeight":"bold","align":"left","baseline":"alphabetic","dx":10.6,"color":"#000000"},"encoding":{"x":{"datum":10.94,"type":"quantitative","scale":{"domain":[-84.46,45.94],"nice":false,"zero":false},"axis":null},"y":{"datum":0.891,"type":"quantitative","scale":{"domain":[0,1],"reverse":true,"nice":false,"zero":false},"axis":null}}},
{"mark":{"type":"text","text":["Global personal","luxury goods","market CAGR"],"fontSize":24,"align":"left","baseline":"alphabetic","lineHeight":32.5,"color":"#000000"},"encoding":{"x":{"datum":-78.06,"type":"quantitative","scale":{"domain":[-84.46,45.94],"nice":false,"zero":false},"axis":null},"y":{"datum":0.632,"type":"quantitative","scale":{"domain":[0,1],"reverse":true,"nice":false,"zero":false},"axis":null}}}]},
{"width":264,"height":193,"data":{"name":"periods"},"transform":[{"filter":"datum.panel == 2"}],"layer":[
{"mark":{"type":"rule","color":"#d9d9d9","strokeWidth":2},"encoding":{"x":{"datum":-21.54,"type":"quantitative","scale":{"domain":[-21.54,31.26],"nice":false,"zero":false},"axis":null}}},
{"mark":{"type":"text","fontSize":64,"fontWeight":"bold","align":"right","baseline":"alphabetic","dx":36,"color":"#000000"},"encoding":{"text":{"field":"winners"},"y":{"datum":0.43,"type":"quantitative","scale":{"domain":[0,1],"reverse":true,"nice":false,"zero":false},"axis":null}}},
{"mark":{"type":"text","text":"%","fontSize":40,"fontWeight":"bold","align":"left","baseline":"alphabetic","dx":36,"color":"#000000"},"encoding":{"y":{"datum":0.43,"type":"quantitative","scale":{"domain":[0,1],"reverse":true,"nice":false,"zero":false},"axis":null}}},
{"mark":{"type":"text","fontSize":42,"fontWeight":"bold","align":"right","baseline":"alphabetic","dx":5.3,"color":"#000000"},"encoding":{"text":{"field":"market"},"y":{"datum":0.891,"type":"quantitative","scale":{"domain":[0,1],"reverse":true,"nice":false,"zero":false},"axis":null}}},
{"mark":{"type":"text","text":"%","fontSize":30,"fontWeight":"bold","align":"left","baseline":"alphabetic","dx":5.3,"color":"#000000"},"encoding":{"y":{"datum":0.891,"type":"quantitative","scale":{"domain":[0,1],"reverse":true,"nice":false,"zero":false},"axis":null}}}]},
{"width":264,"height":193,"data":{"name":"periods"},"transform":[{"filter":"datum.panel == 3"}],"layer":[
{"mark":{"type":"rule","color":"#d9d9d9","strokeWidth":2},"encoding":{"x":{"datum":-11.94,"type":"quantitative","scale":{"domain":[-11.94,40.86],"nice":false,"zero":false},"axis":null}}},
{"mark":{"type":"text","fontSize":64,"fontWeight":"bold","align":"right","baseline":"alphabetic","dx":36,"color":"#000000"},"encoding":{"text":{"field":"winners"},"y":{"datum":0.43,"type":"quantitative","scale":{"domain":[0,1],"reverse":true,"nice":false,"zero":false},"axis":null}}},
{"mark":{"type":"text","text":"%","fontSize":40,"fontWeight":"bold","align":"left","baseline":"alphabetic","dx":36,"color":"#000000"},"encoding":{"y":{"datum":0.43,"type":"quantitative","scale":{"domain":[0,1],"reverse":true,"nice":false,"zero":false},"axis":null}}},
{"mark":{"type":"text","fontSize":42,"fontWeight":"bold","align":"right","baseline":"alphabetic","dx":10.6,"color":"#000000"},"encoding":{"text":{"field":"market"},"y":{"datum":0.891,"type":"quantitative","scale":{"domain":[0,1],"reverse":true,"nice":false,"zero":false},"axis":null}}},
{"mark":{"type":"text","text":"%","fontSize":30,"fontWeight":"bold","align":"left","baseline":"alphabetic","dx":10.6,"color":"#000000"},"encoding":{"y":{"datum":0.891,"type":"quantitative","scale":{"domain":[0,1],"reverse":true,"nice":false,"zero":false},"axis":null}}}]},
{"width":264,"height":193,"data":{"name":"periods"},"transform":[{"filter":"datum.panel == 4"}],"layer":[
{"mark":{"type":"rule","color":"#d9d9d9","strokeWidth":2},"encoding":{"x":{"datum":-19.66,"type":"quantitative","scale":{"domain":[-19.66,33.14],"nice":false,"zero":false},"axis":null}}},
{"mark":{"type":"text","fontSize":64,"fontWeight":"bold","align":"right","baseline":"alphabetic","dx":36,"color":"#000000"},"encoding":{"text":{"field":"winners"},"y":{"datum":0.43,"type":"quantitative","scale":{"domain":[0,1],"reverse":true,"nice":false,"zero":false},"axis":null}}},
{"mark":{"type":"text","text":"%","fontSize":40,"fontWeight":"bold","align":"left","baseline":"alphabetic","dx":36,"color":"#000000"},"encoding":{"y":{"datum":0.43,"type":"quantitative","scale":{"domain":[0,1],"reverse":true,"nice":false,"zero":false},"axis":null}}},
{"mark":{"type":"text","fontSize":42,"fontWeight":"bold","align":"right","baseline":"alphabetic","dx":5.3,"color":"#000000"},"encoding":{"text":{"field":"market"},"y":{"datum":0.891,"type":"quantitative","scale":{"domain":[0,1],"reverse":true,"nice":false,"zero":false},"axis":null}}},
{"mark":{"type":"text","text":"%","fontSize":30,"fontWeight":"bold","align":"left","baseline":"alphabetic","dx":5.3,"color":"#000000"},"encoding":{"y":{"datum":0.891,"type":"quantitative","scale":{"domain":[0,1],"reverse":true,"nice":false,"zero":false},"axis":null}}}]},
{"width":264,"height":193,"data":{"name":"periods"},"transform":[{"filter":"datum.panel == 5"}],"layer":[
{"mark":{"type":"rule","color":"#d9d9d9","strokeWidth":2},"encoding":{"x":{"datum":-24.4,"type":"quantitative","scale":{"domain":[-24.4,28.4],"nice":false,"zero":false},"axis":null}}},
{"mark":{"type":"text","fontSize":64,"fontWeight":"bold","align":"right","baseline":"alphabetic","dx":36,"color":"#000000"},"encoding":{"text":{"field":"winners"},"y":{"datum":0.43,"type":"quantitative","scale":{"domain":[0,1],"reverse":true,"nice":false,"zero":false},"axis":null}}},
{"mark":{"type":"text","text":"%","fontSize":40,"fontWeight":"bold","align":"left","baseline":"alphabetic","dx":36,"color":"#000000"},"encoding":{"y":{"datum":0.43,"type":"quantitative","scale":{"domain":[0,1],"reverse":true,"nice":false,"zero":false},"axis":null}}},
{"mark":{"type":"text","fontSize":42,"fontWeight":"bold","align":"right","baseline":"alphabetic","dx":10.6,"color":"#000000"},"encoding":{"text":{"field":"market"},"y":{"datum":0.891,"type":"quantitative","scale":{"domain":[0,1],"reverse":true,"nice":false,"zero":false},"axis":null}}},
{"mark":{"type":"text","text":"%","fontSize":30,"fontWeight":"bold","align":"left","baseline":"alphabetic","dx":10.6,"color":"#000000"},"encoding":{"y":{"datum":0.891,"type":"quantitative","scale":{"domain":[0,1],"reverse":true,"nice":false,"zero":false},"axis":null}}}]},
{"width":265,"height":193,"data":{"name":"periods"},"transform":[{"filter":"datum.panel == 6"}],"layer":[
{"mark":{"type":"rule","color":"#d9d9d9","strokeWidth":2},"encoding":{"x":{"datum":-34.74,"type":"quantitative","scale":{"domain":[-34.74,18.26],"nice":false,"zero":false},"axis":null}}},
{"mark":{"type":"text","fontSize":64,"fontWeight":"bold","align":"right","baseline":"alphabetic","dx":36,"color":"#000000"},"encoding":{"text":{"field":"winners"},"y":{"datum":0.43,"type":"quantitative","scale":{"domain":[0,1],"reverse":true,"nice":false,"zero":false},"axis":null}}},
{"mark":{"type":"text","text":"%","fontSize":40,"fontWeight":"bold","align":"left","baseline":"alphabetic","dx":36,"color":"#000000"},"encoding":{"y":{"datum":0.43,"type":"quantitative","scale":{"domain":[0,1],"reverse":true,"nice":false,"zero":false},"axis":null}}},
{"mark":{"type":"text","fontSize":42,"fontWeight":"bold","align":"right","baseline":"alphabetic","dx":17.0,"color":"#000000"},"encoding":{"text":{"field":"market"},"y":{"datum":0.891,"type":"quantitative","scale":{"domain":[0,1],"reverse":true,"nice":false,"zero":false},"axis":null}}},
{"mark":{"type":"text","text":"%","fontSize":30,"fontWeight":"bold","align":"left","baseline":"alphabetic","dx":17.0,"color":"#000000"},"encoding":{"y":{"datum":0.891,"type":"quantitative","scale":{"domain":[0,1],"reverse":true,"nice":false,"zero":false},"axis":null}}}]},
{"width":265,"height":193,"data":{"name":"periods"},"transform":[{"filter":"datum.panel == 7"}],"layer":[
{"mark":{"type":"rule","color":"#d9d9d9","strokeWidth":2},"encoding":{"x":{"datum":-17.06,"type":"quantitative","scale":{"domain":[-17.06,35.94],"nice":false,"zero":false},"axis":null}}},
{"mark":{"type":"text","fontSize":64,"fontWeight":"bold","align":"right","baseline":"alphabetic","dx":36,"color":"#000000"},"encoding":{"text":{"field":"winners"},"y":{"datum":0.43,"type":"quantitative","scale":{"domain":[0,1],"reverse":true,"nice":false,"zero":false},"axis":null}}},
{"mark":{"type":"text","text":"%","fontSize":40,"fontWeight":"bold","align":"left","baseline":"alphabetic","dx":36,"color":"#000000"},"encoding":{"y":{"datum":0.43,"type":"quantitative","scale":{"domain":[0,1],"reverse":true,"nice":false,"zero":false},"axis":null}}},
{"mark":{"type":"text","fontSize":42,"fontWeight":"bold","align":"right","baseline":"alphabetic","dx":10.6,"color":"#000000"},"encoding":{"text":{"field":"market"},"y":{"datum":0.891,"type":"quantitative","scale":{"domain":[0,1],"reverse":true,"nice":false,"zero":false},"axis":null}}},
{"mark":{"type":"text","text":"%","fontSize":30,"fontWeight":"bold","align":"left","baseline":"alphabetic","dx":10.6,"color":"#000000"},"encoding":{"y":{"datum":0.891,"type":"quantitative","scale":{"domain":[0,1],"reverse":true,"nice":false,"zero":false},"axis":null}}}]},
{"width":264,"height":193,"data":{"name":"periods"},"transform":[{"filter":"datum.panel == 8"}],"layer":[
{"mark":{"type":"rule","color":"#d9d9d9","strokeWidth":2},"encoding":{"x":{"datum":-14.54,"type":"quantitative","scale":{"domain":[-14.54,38.26],"nice":false,"zero":false},"axis":null}}},
{"mark":{"type":"text","fontSize":64,"fontWeight":"bold","align":"right","baseline":"alphabetic","dx":36,"fill":{"gradient":"linear","x1":0,"y1":0,"x2":1,"y2":0,"stops":[{"offset":0,"color":"#8a3c7f"},{"offset":1,"color":"#c81a3e"}]}},"encoding":{"text":{"field":"winners"},"y":{"datum":0.43,"type":"quantitative","scale":{"domain":[0,1],"reverse":true,"nice":false,"zero":false},"axis":null}}},
{"mark":{"type":"text","text":"%","fontSize":40,"fontWeight":"bold","align":"left","baseline":"alphabetic","dx":36,"color":"#d2001c"},"encoding":{"y":{"datum":0.43,"type":"quantitative","scale":{"domain":[0,1],"reverse":true,"nice":false,"zero":false},"axis":null}}},
{"mark":{"type":"text","fontSize":42,"fontWeight":"bold","align":"right","baseline":"alphabetic","dx":22.3,"color":"#000000"},"encoding":{"text":{"field":"market"},"y":{"datum":0.891,"type":"quantitative","scale":{"domain":[0,1],"reverse":true,"nice":false,"zero":false},"axis":null}}},
{"mark":{"type":"text","text":"%","fontSize":30,"fontWeight":"bold","align":"left","baseline":"alphabetic","dx":22.3,"color":"#000000"},"encoding":{"y":{"datum":0.891,"type":"quantitative","scale":{"domain":[0,1],"reverse":true,"nice":false,"zero":false},"axis":null}}}]},
{"width":58,"height":193,"data":{"values":[{}]},"mark":{"type":"text","text":""},"encoding":{}}
]
}
